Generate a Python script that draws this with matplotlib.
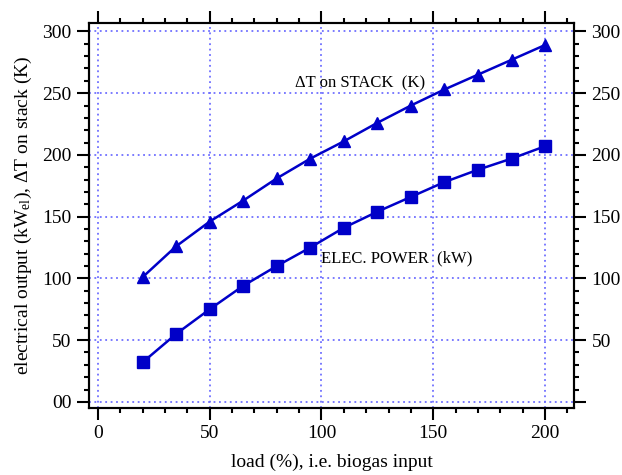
import matplotlib.pyplot as plt
from matplotlib.ticker import MultipleLocator

plt.rcParams['font.family'] = ['Liberation Serif', 'DejaVu Serif']
plt.rcParams['mathtext.fontset'] = 'custom'
plt.rcParams['mathtext.rm'] = 'Liberation Serif'
plt.rcParams['mathtext.it'] = 'Liberation Serif:italic'

# data
load = [20, 35, 50, 65, 80, 95, 110, 125, 140, 155, 170, 185, 200]
dT_stack = [101, 126, 146, 163, 181, 197, 211, 226, 240, 253, 265, 277, 289]
elec_power = [32, 55, 75, 94, 110, 125, 141, 154, 166, 178, 188, 197, 207]

yticks = [0, 50, 100, 150, 200, 250, 300]
left_labels = ['00', '50', '100', '150', '200', '250', '300']
right_labels = ['', '50', '100', '150', '200', '250', '300']

blue = '#0000c8'
grid_blue = '#6f6fff'

fig = plt.figure(figsize=(6.22, 4.75), dpi=100)
ax = fig.add_axes([0.143, 0.141, 0.78, 0.811])

ax.plot(load, dT_stack, '-^', color=blue, lw=1.8, ms=9)
ax.plot(load, elec_power, '-s', color=blue, lw=1.8, ms=9)

ax.text(88, 255, 'ΔT on STACK  (K)', fontsize=12)
ax.text(100, 113, 'ELEC. POWER  (kW)', fontsize=12)

ax.set_xlim(-4, 213)
ax.set_ylim(-5, 307)
ax.xaxis.set_major_locator(MultipleLocator(50))
ax.xaxis.set_minor_locator(MultipleLocator(10))
ax.set_yticks(yticks)
ax.set_yticklabels(left_labels)
ax.yaxis.set_minor_locator(MultipleLocator(10))

ax.grid(True, which='major', color=grid_blue, ls=(0, (1, 2)), lw=1.3)
for s in ax.spines.values():
    s.set_linewidth(1.5)
ax.tick_params(which='both', direction='out', width=1.5, labelsize=14,
               top=True, labeltop=False)
ax.tick_params(which='major', length=8.5, pad=4)
ax.tick_params(which='minor', length=3.8)

ax2 = ax.twinx()
ax2.set_ylim(ax.get_ylim())
ax2.set_yticks(yticks)
ax2.set_yticklabels(right_labels)
ax2.yaxis.set_minor_locator(MultipleLocator(10))
ax2.tick_params(which='both', direction='out', width=1.5, labelsize=14)
ax2.tick_params(which='major', length=8.5, pad=4)
ax2.tick_params(which='minor', length=3.8)
for s in ax2.spines.values():
    s.set_linewidth(1.5)

ax.set_xlabel('load (%), i.e. biogas input', fontsize=14, labelpad=8)
ax.set_ylabel('electrical output (kW$_{\\mathrm{el}}$), ΔT on stack (K)', fontsize=14, labelpad=6)

plt.savefig('out.png')
